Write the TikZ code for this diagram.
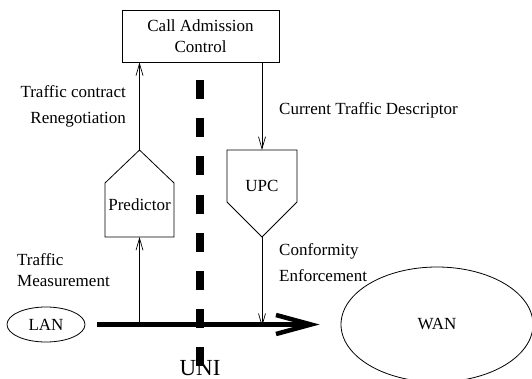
\documentclass[tikz,border=0pt]{standalone}
\usepackage{fontspec}
\setmainfont{Liberation Serif}
\usetikzlibrary{positioning, arrows.meta, shapes.geometric}

\begin{document}
\begin{tikzpicture}[x=1pt, y=-1pt,
    font=\fontsize{17}{21}\selectfont,
    box/.style={draw, line width=0.8pt, minimum width=157pt, minimum height=52pt,
      align=center, inner sep=0pt},
    net/.style={draw, ellipse, line width=0.8pt, inner sep=0pt},
    sig/.style={line width=0.7pt, -{Straight Barb[length=12pt,width=7pt]}},
    link/.style={line width=4.5pt, -{Straight Barb[length=35pt,width=19pt]}},
    uni/.style={line width=8pt, dash pattern=on 19pt off 19.2pt},
    lbl/.style={inner sep=0pt}]
  \def\halfw{34.5}
  \def\tip{33}

  \useasboundingbox (0,0) rectangle (532,379);

  \node[box] (cac) at (200.5,36) {Call Admission\\Control};

  % predictor, points up
  \coordinate (pred_top) at (139.5,150);
  \path (pred_top) ++(-\halfw,\tip) coordinate (pred_nw);
  \path (pred_top) ++(\halfw,\tip) coordinate (pred_ne);
  \path (pred_nw) ++(0,54) coordinate (pred_sw);
  \path (pred_ne) ++(0,54) coordinate (pred_se);
  \path (pred_top) ++(0,87) coordinate (pred_bot);
  \draw[line width=0.8pt] (pred_top) -- (pred_ne) -- (pred_se) -- (pred_sw) -- (pred_nw) -- cycle;
  \node (pred) at (139.5,205) {Predictor};

  % upc, points down
  \coordinate (upc_tip) at (262,237);
  \path (upc_tip) ++(-35,-35) coordinate (upc_sw);
  \path (upc_tip) ++(35,-35) coordinate (upc_se);
  \path (upc_sw) ++(0,-52) coordinate (upc_nw);
  \path (upc_se) ++(0,-52) coordinate (upc_ne);
  \path (upc_tip) ++(0,-87) coordinate (upc_top);
  \draw[line width=0.8pt] (upc_tip) -- (upc_sw) -- (upc_nw) -- (upc_ne) -- (upc_se) -- cycle;
  \node (upc) at (262,186) {UPC};

  % networks and the link
  \node[net, minimum width=78pt, minimum height=35pt] (lan) at (46,324.5) {LAN};
  \node[net, minimum width=192pt, minimum height=115pt] (wan) at (437,324.5) {WAN};
  \path (lan.east) ++(12,0) coordinate (link_a);
  \path (wan.west) ++(-21,0) coordinate (link_b);

  % UNI boundary
  \coordinate (uni_top) at (200,80);
  \coordinate (uni_bot) at (200,366);
  \draw[uni] (uni_top) -- (uni_bot);
  \draw[link] (link_a) -- (link_b);
  \node[anchor=base, font=\fontsize{23}{26}\selectfont, inner sep=0pt] (unitxt) at (200,375) {UNI};

  % signalling
  \draw[sig] (pred_top) -- (cac.south -| pred_top);
  \draw[sig] (cac.south -| upc_top) -- (upc_top);
  \draw[sig] (link_a -| pred_bot) -- (pred_bot);
  \draw[sig] (upc_tip) -- ([yshift=-2.25pt]link_a -| upc_tip);

  \node[lbl, anchor=base east, align=right] (reneg) at (126,124) {Traffic contract\\[5pt]Renegotiation};
  \node[lbl, anchor=base west] (desc) at (279,115) {Current Traffic Descriptor};
  \node[lbl, anchor=base west, align=left] (meas) at (17,286) {Traffic\\Measurement};
  \node[lbl, anchor=base west, align=left] (conf) at (279,281) {Conformity\\[5pt]Enforcement};
\end{tikzpicture}
\end{document}
